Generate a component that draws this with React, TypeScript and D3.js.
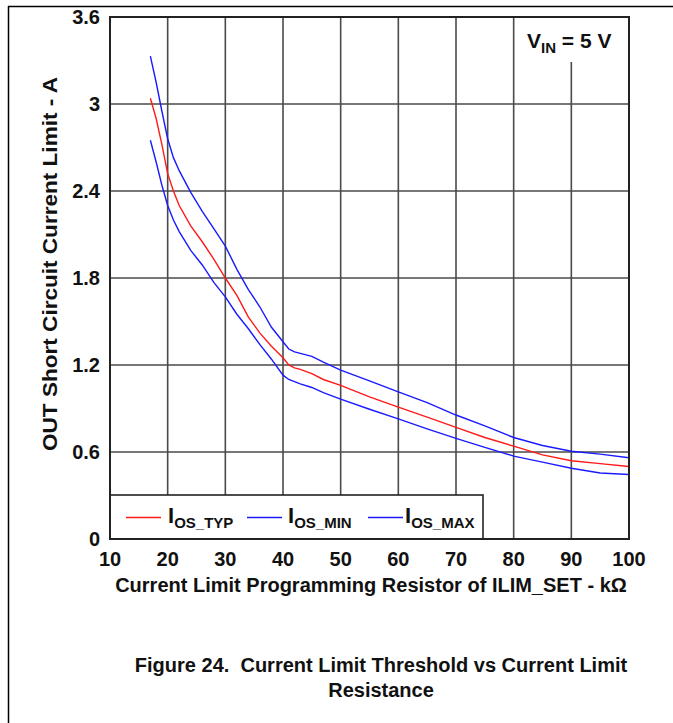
import React from "react";
import * as d3 from "d3";

const xValues = [17, 18, 19, 20, 21, 22, 24, 26, 28, 30, 32, 34, 36, 38, 40, 41, 42, 43, 45, 47, 50, 55, 60, 65, 70, 75, 80, 85, 90, 95, 100];
const typValues = [3.04, 2.9, 2.72, 2.52, 2.4, 2.3, 2.16, 2.05, 1.93, 1.8, 1.68, 1.53, 1.42, 1.33, 1.25, 1.2, 1.18, 1.17, 1.14, 1.1, 1.06, 0.98, 0.91, 0.84, 0.77, 0.7, 0.64, 0.58, 0.54, 0.52, 0.5];
const maxValues = [3.33, 3.15, 2.95, 2.76, 2.63, 2.54, 2.39, 2.26, 2.14, 2.02, 1.86, 1.72, 1.6, 1.46, 1.36, 1.31, 1.29, 1.28, 1.26, 1.22, 1.165, 1.09, 1.015, 0.94, 0.855, 0.78, 0.7, 0.645, 0.605, 0.585, 0.56];
const minValues = [2.75, 2.6, 2.44, 2.3, 2.2, 2.12, 1.99, 1.89, 1.77, 1.67, 1.55, 1.45, 1.34, 1.24, 1.13, 1.1, 1.085, 1.07, 1.045, 1.01, 0.965, 0.895, 0.828, 0.76, 0.694, 0.632, 0.572, 0.53, 0.488, 0.455, 0.445];

const xTicks = [10, 20, 30, 40, 50, 60, 70, 80, 90, 100];
const yTicks = [0, 0.6, 1.2, 1.8, 2.4, 3, 3.6];
const yTickLabels = ["0", "0.6", "1.2", "1.8", "2.4", "3", "3.6"];

const seriesNames = ["OS_TYP", "OS_MIN", "OS_MAX"];
const seriesColors = ["#ff1a1a", "#1a1aff", "#1a1aff"];
const seriesData = [typValues, minValues, maxValues];

const W = 673;
const H = 723;
const left = 110;
const right = 629;
const top = 17;
const bottom = 539;

export default function App() {
  const x = d3.scaleLinear().domain([10, 100]).range([left, right]);
  const y = d3.scaleLinear().domain([0, 3.6]).range([bottom, top]);
  const line = d3
    .line<number>()
    .x((_, i) => x(xValues[i]))
    .y((d) => y(d));

  const font = "'Liberation Sans', Arial, sans-serif";
  const gridColor = "#4a4a4a";

  const legendLineX = [126, 247, 368];
  const legendTextX = [168, 288, 405];

  return (
    <svg
      width={W}
      height={H}
      style={{ position: "absolute", left: 0, top: 0, background: "#fff" }}
      fontFamily={font}
      fontWeight="bold"
    >
      <rect x={0} y={0} width={W} height={H} fill="#fff" />
      {/* outer frame */}
      <line x1={8} y1={6.5} x2={W} y2={6.5} stroke="#000" strokeWidth={1.5} />
      <line x1={8.5} y1={6} x2={8.5} y2={H} stroke="#000" strokeWidth={1.5} />

      {/* grid */}
      {xTicks.slice(1, -1).map((t) => (
        <line key={"gx" + t} x1={x(t)} x2={x(t)} y1={top} y2={bottom} stroke={gridColor} strokeWidth={1.6} />
      ))}
      {yTicks.slice(1, -1).map((t) => (
        <line key={"gy" + t} x1={left} x2={right} y1={y(t)} y2={y(t)} stroke={gridColor} strokeWidth={1.6} />
      ))}

      {/* V_IN label background */}
      <rect x={520} y={top + 1} width={104} height={44} fill="#fff" />
      <text x={527} y={48} fontSize={21} fill="#111">
        V
        <tspan fontSize={15} dy={5}>IN</tspan>
        <tspan dy={-5}> = 5 V</tspan>
      </text>

      {/* data */}
      {seriesData.map((s, i) => (
        <path key={"s" + i} d={line(s) || ""} fill="none" stroke={seriesColors[i]} strokeWidth={1.4} />
      ))}

      {/* legend */}
      <rect x={left} y={495} width={373} height={bottom - 495} fill="#fff" stroke="#222" strokeWidth={1.6} />
      {seriesNames.map((n, i) => (
        <g key={"lg" + i}>
          <line x1={legendLineX[i]} x2={legendLineX[i] + 35} y1={517.5} y2={517.5} stroke={seriesColors[i]} strokeWidth={1.4} />
          <text x={legendTextX[i]} y={523} fontSize={22} fill="#111">
            I
            <tspan fontSize={15} dy={5}>{n}</tspan>
          </text>
        </g>
      ))}

      {/* plot border */}
      <rect x={left} y={top} width={right - left} height={bottom - top} fill="none" stroke="#222" strokeWidth={2} />

      {/* ticks */}
      {yTicks.map((t, i) => (
        <text key={"yt" + t} x={100} y={y(t) + 7} fontSize={20} textAnchor="end" fill="#111">
          {yTickLabels[i]}
        </text>
      ))}
      {xTicks.map((t) => (
        <text key={"xt" + t} x={x(t)} y={566} fontSize={20} textAnchor="middle" fill="#111">
          {t}
        </text>
      ))}

      {/* axis titles */}
      <text x={371} y={592} fontSize={20} textAnchor="middle" fill="#111">
        Current Limit Programming Resistor of ILIM_SET - kΩ
      </text>
      <text
        transform={`translate(57, 264) rotate(-90)`}
        fontSize={20}
        textAnchor="middle"
        fill="#111"
        textLength={374}
        lengthAdjust="spacingAndGlyphs"
      >
        OUT Short Circuit Current Limit - A
      </text>

      {/* caption */}
      <text x={381} y={672} fontSize={20} textAnchor="middle" fill="#111">
        Figure 24.{"\u00a0\u00a0"}Current Limit Threshold vs Current Limit
      </text>
      <text x={381} y={697} fontSize={20} textAnchor="middle" fill="#111">
        Resistance
      </text>
    </svg>
  );
}
